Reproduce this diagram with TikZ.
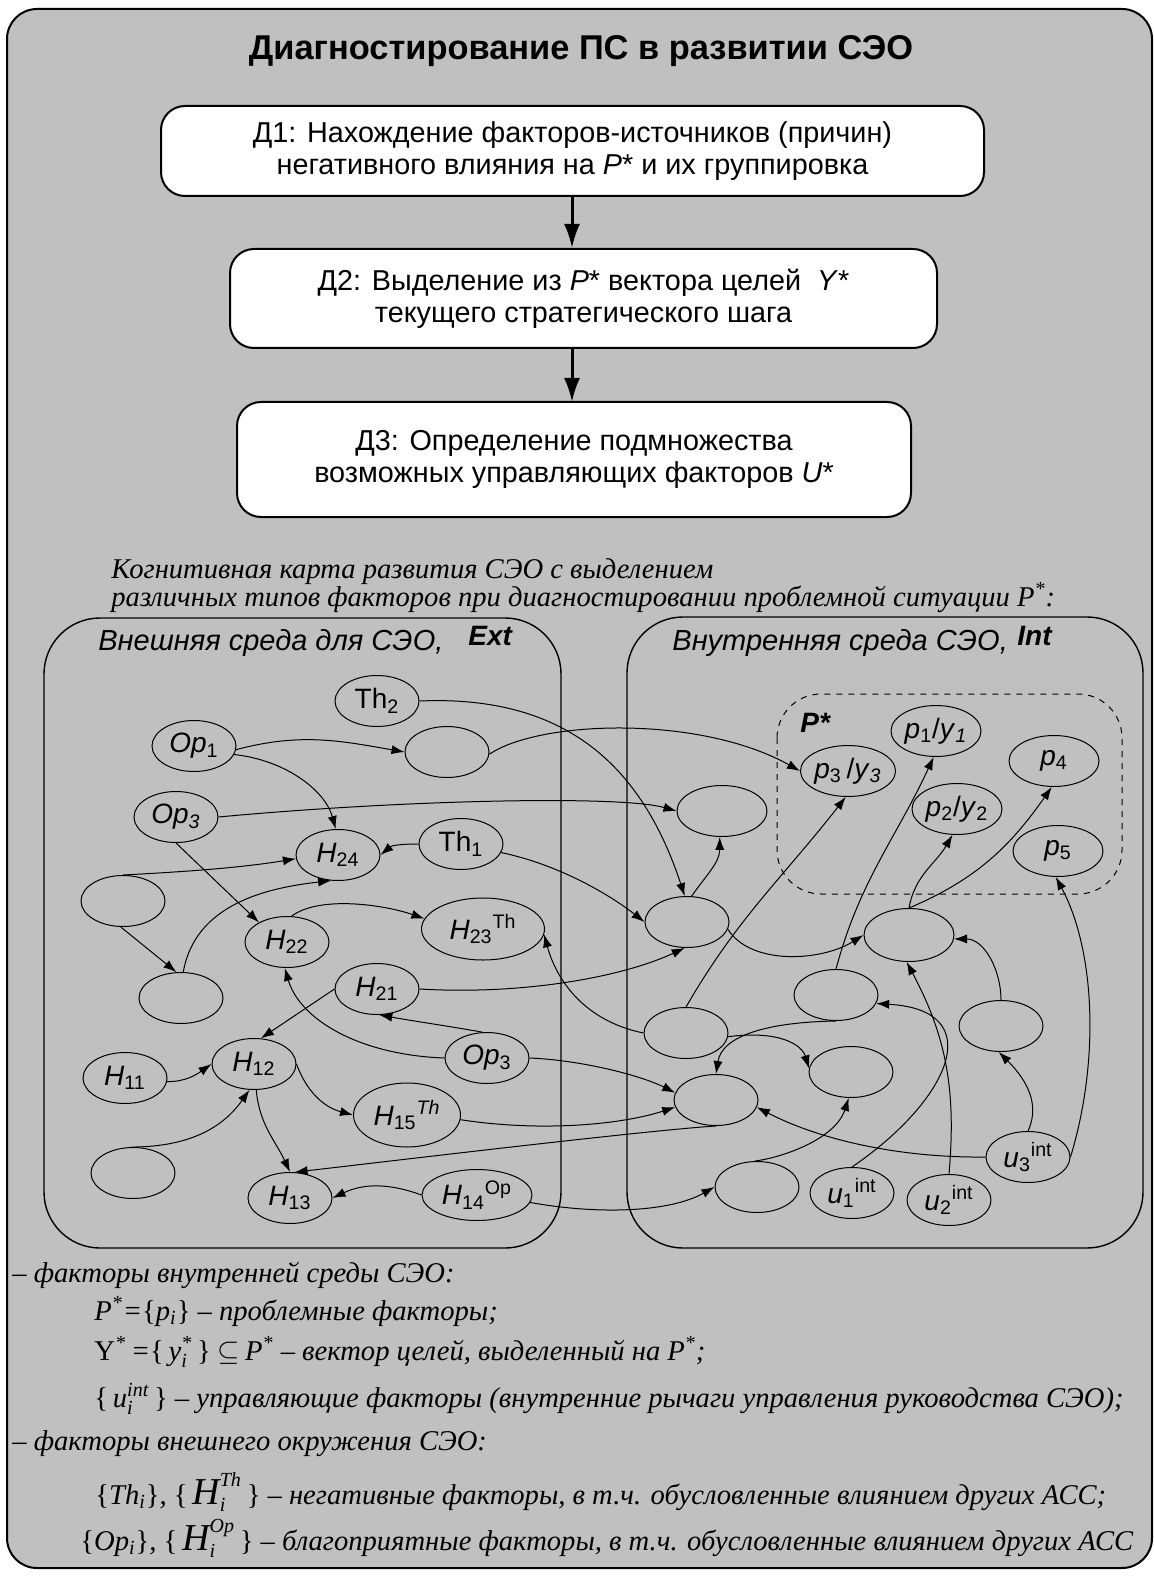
\documentclass[tikz,border=0pt]{standalone}
\usepackage{fontspec}
\setmainfont{Liberation Serif}
\setsansfont{Liberation Sans}
\usetikzlibrary{arrows.meta,shapes.geometric}
\definecolor{panel}{HTML}{C0C0C0}
% letter with an upper and a lower index, placed by TeX's math rules
\newcommand{\idx}[3]{\ensuremath{\mbox{#1}^{\mbox{\fontsize{10}{10}\selectfont\itshape #2}}_{\mbox{\fontsize{10}{10}\selectfont\itshape #3}}}}
% enlarged letter inside the legend formulas
\newcommand{\bigH}{{\fontsize{19}{19}\selectfont\itshape H}}

\begin{document}
\begin{tikzpicture}[x=0.5pt,y=-0.5pt,
  fac/.style={ellipse, draw, line width=0.5pt, minimum width=42pt, minimum height=25.5pt,
    inner sep=0pt, font=\sffamily\fontsize{14}{15}\selectfont},
  link/.style={-{Latex[length=6.5pt,width=4.6pt]}, line width=0.5pt},
  flowbox/.style={draw, fill=white, line width=1pt, rounded corners=12pt, align=center,
    inner sep=0pt, font=\sffamily\fontsize{14.4}{16}\selectfont},
  flowarrow/.style={-{Latex[length=12pt,width=8pt]}, line width=1.5pt},
  area/.style={draw, line width=0.7pt, rounded corners=28pt},
  note/.style={anchor=base west, inner sep=0pt, font=\itshape\fontsize{14.3}{17}\selectfont},
  envlabel/.style={anchor=base west, inner sep=0pt, font=\sffamily\itshape\fontsize{14.5}{16}\selectfont},
  envname/.style={anchor=base west, inner sep=0pt, font=\sffamily\bfseries\itshape\fontsize{14}{16}\selectfont},
]
\useasboundingbox (0,0) rectangle (1154,1577);
\fill[white] (0,0) rectangle (1154,1577);

% outer panel
\draw[line width=1pt, fill=panel, rounded corners=15pt] (7,9) rectangle (1152,1568);

% title and diagnosis steps
\node[anchor=base, inner sep=0pt, font=\sffamily\bfseries\fontsize{17.2}{19}\selectfont] (title) at (581,60)
  {Диагностирование ПС в развитии СЭО};

\node[flowbox, minimum width=411.5pt, minimum height=45pt] (d1) at (572.5,151)
  {Д1: Нахождение факторов-источников (причин)\\негативного влияния на \textit{P}* и их группировка};
\node[flowbox, minimum width=353.5pt, minimum height=49.5pt] (d2) at (583.5,298.5)
  {Д2: Выделение из \textit{P}* вектора целей\ \ \textit{Y}*\\текущего стратегического шага};
\node[flowbox, minimum width=337pt, minimum height=57.5pt] (d3) at (574,459.5)
  {Д3: Определение подмножества\\возможных управляющих факторов \textit{U}*};

\draw[flowarrow] (572,196) -- (572,248);
\draw[flowarrow] (572,348) -- (572,402);

% caption of the cognitive map
\node[note] (cap1) at (111,578) {Когнитивная карта развития СЭО с выделением};
\node[note] (cap2) at (111,606) {различных типов факторов при диагностировании проблемной ситуации \textit{P}\textsuperscript{*}:};

% environment areas
\draw[area] (44,618) rectangle (561,1248);
\draw[area] (627,617) rectangle (1143,1248);
\draw[dashed, line width=0.5pt, rounded corners=22pt] (777,694) rectangle (1122,894);

\node[envlabel] (extlabel) at (98,650) {Внешняя среда для СЭО,};
\node[envname] (extname) at (468,645) {Ext};
\node[envlabel] (intlabel) at (672,650) {Внутренняя среда СЭО,};
\node[envname] (intname) at (1017,645) {Int};
\node[envname] (pstar) at (800,732) {P*};

% external factors
\node[fac] (Th2) at (377,701) {Th\textsubscript{2}};
\node[fac] (Op1) at (194,746) {\textit{Op}\textsubscript{1}};
\node[fac] (E1) at (447,752) {};
\node[fac] (Op3a) at (176,817) {\textit{Op\textsubscript{3}}};
\node[fac] (H24) at (338,855) {\textit{H}\textsubscript{24}};
\node[fac] (Th1) at (461,844) {Th\textsubscript{1}};
\node[fac] (E2) at (123,901) {};
\node[fac] (H22) at (287,942) {\textit{H}\textsubscript{22}};
\node[fac, minimum width=61.5pt, minimum height=31pt] (H23) at (483,929) {\textit{H}\textsubscript{23}\textsuperscript{Th}};
\node[fac] (E3) at (181,998) {};
\node[fac] (H21) at (377,989) {\textit{H}\textsubscript{21}};
\node[fac] (H12) at (254,1064) {\textit{H}\textsubscript{12}};
\node[fac] (H11) at (125,1078) {\textit{H}\textsubscript{11}};
\node[fac] (Op3b) at (487,1058) {\textit{Op}\textsubscript{3}};
\node[fac, minimum width=53.5pt, minimum height=32pt] (H15) at (407,1115) {\textit{H}\textsubscript{15}\textsuperscript{\textit{Th}}};
\node[fac] (E4) at (133,1173) {};
\node[fac] (H13) at (290,1198) {\textit{H}\textsubscript{13}};
\node[fac, minimum width=55pt] (H14) at (477,1195) {\textit{H}\textsubscript{14}\textsuperscript{Op}};

% internal factors
\node[fac, minimum width=45pt] (p1) at (936,731) {\textit{p}\textsubscript{1}/\textit{y}\textsubscript{\textit{1}}};
\node[fac, minimum width=45pt] (p3) at (848,771) {\textit{p}\textsubscript{3}\,/\textit{y}\textsubscript{\textit{3}}};
\node[fac, minimum width=45pt] (p4) at (1054,761) {\textit{p}\textsubscript{4}};
\node[fac, minimum width=45pt] (p2) at (957,809) {\textit{p}\textsubscript{2}/\textit{y}\textsubscript{2}};
\node[fac, minimum width=45pt] (p5) at (1058,851) {\textit{p}\textsubscript{5}};
\node[fac, minimum width=45pt] (E5) at (722,811) {};
\node[fac] (E6) at (687,922) {};
\node[fac, minimum width=45pt, minimum height=26.5pt] (E7) at (909,935) {};
\node[fac] (E8) at (836,995) {};
\node[fac] (E9) at (1001,1026) {};
\node[fac] (E10) at (686,1033) {};
\node[fac] (E11) at (851,1072) {};
\node[fac] (E12) at (716,1100) {};
\node[fac] (E13) at (757,1187) {};
\node[fac] (u1) at (852,1193) {\textit{u}\textsubscript{1}\textsuperscript{int}};
\node[fac] (u2) at (949,1200) {\textit{u}\textsubscript{2}\textsuperscript{int}};
\node[fac] (u3) at (1028,1157) {\textit{u}\textsubscript{3}\textsuperscript{int}};

% influences among external factors
\draw[link] (Op1.-5) to[out=15,in=170] (E1.west);
\draw[link] (Op1.-12) .. controls (285,760) and (325,790) .. (H24.95);
\draw[link] (E1.-3) .. controls (540,720) and (700,715) .. (p3.west);
\draw[link] (Th2.east) .. controls (560,695) and (640,760) .. (E6.95);
\draw[link] (Op3a.east) .. controls (400,800) and (620,795) .. (E5.west);
\draw[link] (Op3a.south) -- (H22.145);
\draw[link] (Th1.west) to[out=180,in=40] (H24.east);
\draw[link] (Th1.-12) .. controls (560,865) and (610,895) .. (E6.west);
\draw[link] (E2.north) .. controls (180,872) and (240,868) .. (H24.185);
\draw[link] (E2.-95) -- (E3.100);
\draw[link] (E3.85) .. controls (195,905) and (265,888) .. (H24.-105);
\draw[link] (H22.80) .. controls (320,895) and (385,905) .. (H23.170);
\draw[link] (H21.east) .. controls (520,995) and (620,978) .. (E6.-95);
\draw[link] (Op3b.100) to[out=170,in=-10] (H21.-85);
\draw[link] (Op3b.west) .. controls (360,1055) and (300,1020) .. (H22.-95);
\draw[link] (H21.west) -- (H12.75);
\draw[link] (H11.-5) to[out=0,in=215] (H12.west);
\draw[link] (H12.east) to[out=-70,in=165] (H15.west);
\draw[link] (H12.-85) to[out=-85,in=115] (H13.north);
\draw[link] (E4.95) to[out=0,in=235] (H12.-100);
\draw[link] (H14.west) to[out=160,in=25] (H13.east);
\draw[link] (H15.-5) .. controls (540,1132) and (620,1125) .. (E12.190);
\draw[link] (Op3b.east) .. controls (580,1060) and (640,1075) .. (E12.170);
\draw[link] (H14.-8) .. controls (600,1215) and (670,1212) .. (E13.west);

% influences inside the organisation
\draw[link] (E6.80) to[out=55,in=-90] (E5.-95);
\draw[link] (E6.-10) .. controls (750,965) and (820,962) .. (E7.west);
\draw[link] (E10.north) to[out=60,in=232] (p3.-95);
\draw[link] (E8.north) to[out=75,in=245] (p1.-95);
\draw[link] (E7.north) to[out=80,in=240] (p2.-100);
\draw[link] (E7.north) to[out=23,in=235] (p4.-95);
\draw[link] (u3.east) .. controls (1100,1060) and (1095,950) .. (p5.-95);
\draw[link] (E9.north) to[out=90,in=0] (E7.-5);
\draw[link] (u3.north) to[out=65,in=-45] (E9.-95);
\draw[link] (u2.north) to[out=85,in=-62] (E7.-95);
\draw[link] (u1.north) .. controls (950,1100) and (990,1010) .. (E8.-12);
\draw[link] (E8.south) .. controls (770,1022) and (722,1035) .. (E12.north);
\draw[link] (E10.-5) .. controls (780,1030) and (802,1045) .. (E11.175);
\draw[link] (u3.west) .. controls (900,1158) and (820,1140) .. (E12.-10);
\draw[link] (E13.95) .. controls (780,1158) and (835,1140) .. (E11.-95);
\draw[link] (E12.south) .. controls (650,1130) and (400,1160) .. (H13.80);
\draw[link] (E10.west) .. controls (580,1020) and (555,975) .. (H23.-5);

% legend
\node[note] (leg1) at (12,1282) {– факторы внутренней среды СЭО:};
\node[note] (leg2) at (94,1320) {P\textsuperscript{*}={\upshape\{}p\textsubscript{i}{\upshape\}} – проблемные факторы;};
\node[note] (leg3) at (94,1360) {{\upshape Y}\textsuperscript{*}\,={\upshape\{}\,\idx{\itshape y}{*}{i}\,{\upshape\}}\ $\subseteq$\,P\textsuperscript{*} – вектор целей, выделенный на P\textsuperscript{*};};
\node[note] (leg4) at (94,1407) {{\upshape\{}\,\idx{\itshape u}{int}{i}\,{\upshape\}} – управляющие факторы (внутренние рычаги управления руководства СЭО);};
\node[note] (leg5) at (12,1450) {– факторы внешнего окружения СЭО:};
\node[note] (leg6) at (95,1504) {{\upshape\{}Th\textsubscript{i}{\upshape\}}, {\upshape\{}\,\idx{\bigH}{Th}{i}\,{\upshape\}} – негативные факторы, в т.ч. обусловленные влиянием других АСС;};
\node[note] (leg7) at (80,1550) {{\upshape\{}Op\textsubscript{i}{\upshape\}}, {\upshape\{}\,\idx{\bigH}{Op}{i}\,{\upshape\}} – благоприятные факторы, в т.ч. обусловленные влиянием других АСС};
\end{tikzpicture}
\end{document}
